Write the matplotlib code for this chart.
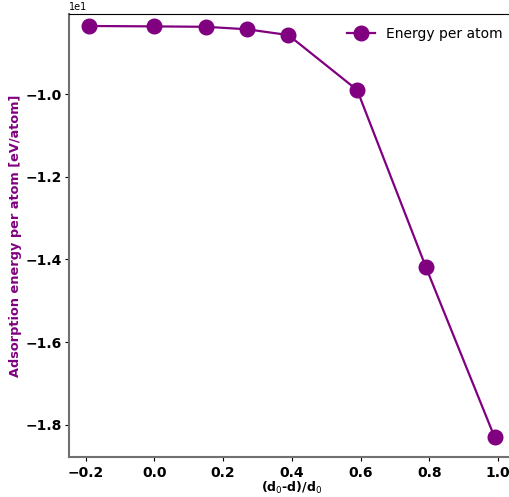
import numpy as np
import matplotlib.pyplot as plt

# strain (d0-d)/d0 and adsorption energy per atom in eV
strain = [-0.19, 0.0, 0.15, 0.27, 0.39, 0.59, 0.79, 0.99]
energy = [-8.35, -8.36, -8.37, -8.43, -8.57, -9.90, -14.19, -18.31]

fig = plt.figure(figsize=(5.09, 4.97), dpi=100)
ax = fig.add_axes([69/509, (497-457.3)/497, (515-69)/509, (457.3-14)/497])

ax.plot(strain, energy, '-o', color='purple', lw=1.6, ms=10.5, label='Energy per atom')

ax.set_xlim(-0.248, 1.049)
ax.set_ylim(-18.79, -8.06)
ax.ticklabel_format(axis='y', style='sci', scilimits=(0, 0))
ax.yaxis.get_offset_text().set_fontsize(7)
ax.tick_params(axis='y', length=3, pad=2)
ax.tick_params(axis='x', length=3, pad=3)

ax.set_xlabel(r'(d$_0$-d)/d$_0$', fontsize=9, fontweight='bold', labelpad=0)
ax.set_ylabel('Adsorption energy per atom [eV/atom]', fontsize=9.3,
              fontweight='bold', color='purple', labelpad=3)
for lab in ax.get_xticklabels() + ax.get_yticklabels():
    lab.set_fontweight('bold')
    lab.set_fontsize(10)

for s in ['left', 'bottom']:
    ax.spines[s].set_color('#707070')
    ax.spines[s].set_linewidth(1.5)

ax.legend(loc='upper right', frameon=False, fontsize=10)
fig.savefig('out.png', dpi=100)
